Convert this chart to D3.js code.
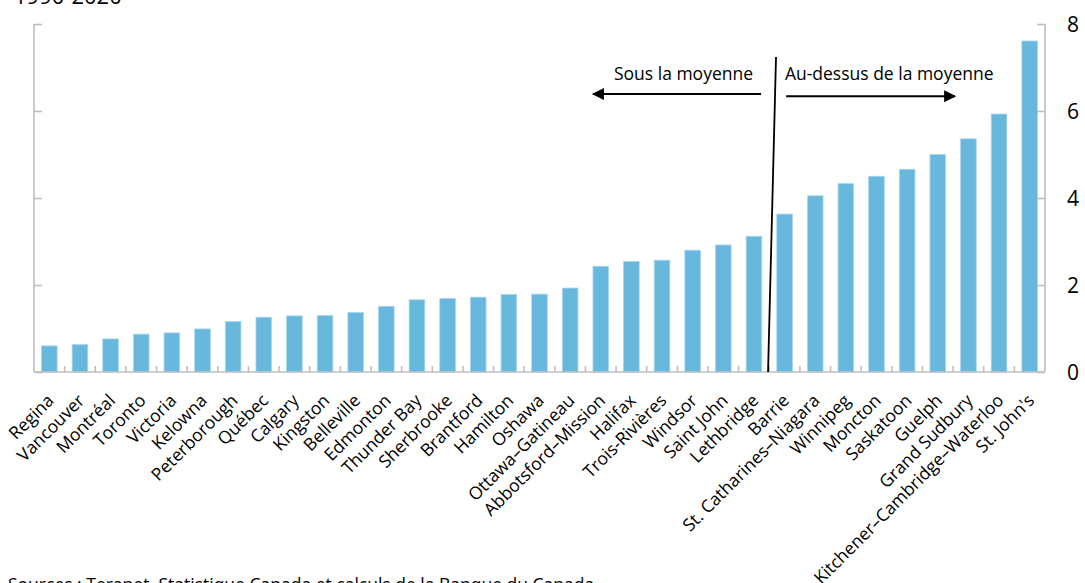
<!DOCTYPE html>
<html><head><meta charset="utf-8">
<script src="https://cdn.jsdelivr.net/npm/d3@7"></script>
<style>
html,body{margin:0;padding:0;background:#fff;}
svg{display:block;font-family:"Open Sans",sans-serif;}
</style></head>
<body>
<svg id="c" width="1085" height="583"></svg>
<script>
const categories = ["Regina","Vancouver","Montréal","Toronto","Victoria","Kelowna","Peterborough","Québec","Calgary","Kingston","Belleville","Edmonton","Thunder Bay","Sherbrooke","Brantford","Hamilton","Oshawa","Ottawa–Gatineau","Abbotsford–Mission","Halifax","Trois-Rivières","Windsor","Saint John","Lethbridge","Barrie","St. Catharines–Niagara","Winnipeg","Moncton","Saskatoon","Guelph","Grand Sudbury","Kitchener–Cambridge–Waterloo","St. John's"];
const values = [0.60,0.63,0.76,0.87,0.90,0.99,1.16,1.26,1.29,1.30,1.37,1.51,1.66,1.69,1.72,1.78,1.79,1.93,2.43,2.54,2.57,2.80,2.92,3.12,3.63,4.05,4.33,4.50,4.66,5.00,5.36,5.93,7.61];
const yTicks = [0,2,4,6,8];
const title = "1990-2020";
const source = "Sources : Teranet, Statistique Canada et calculs de la Banque du Canada";
const belowLabel = "Sous la moyenne";
const aboveLabel = "Au-dessus de la moyenne";
// annotation positions in data units: [category index (fractional), value]
const dividerLine = [[23.46,0],[23.72,7.24]];
const belowArrow = [[23.23,6.39],[17.75,6.39]];
const aboveArrow = [[24.05,6.34],[29.56,6.34]];
const belowText = [22.97,6.71];
const aboveText = [24.01,6.71];

const svg = d3.select("#c");
const L = 34, R = 1045, T = 24, B = 372;
const x = d3.scaleBand().domain(categories).range([L,R]).paddingInner(0.49).paddingOuter(0.245);
const y = d3.scaleLinear().domain([0,8]).range([B,T]);
const step = x.step();
const xi = i => x(categories[0]) + x.bandwidth()/2 + i*step;
const grey = "#bfbfbf";

svg.append("defs").append("marker").attr("id","ah").attr("viewBox","0 0 10 10")
  .attr("refX",9).attr("refY",5).attr("markerWidth",7.5).attr("markerHeight",6)
  .attr("markerUnits","strokeWidth").attr("orient","auto")
  .append("path").attr("d","M0,0L10,5L0,10Z").attr("fill","#000");

// bars
svg.append("g").selectAll("rect").data(values).join("rect")
  .attr("x",(d,i)=>x(categories[i])).attr("width",x.bandwidth())
  .attr("y",d=>y(d)).attr("height",d=>B-y(d))
  .attr("fill","#68b7dc").attr("stroke","#a8d6ee").attr("stroke-width",0.8);

// left axis
const la = svg.append("g").attr("transform",`translate(${L},0)`)
  .call(d3.axisRight(y).tickValues(yTicks).tickSize(8).tickFormat(""));
la.select(".domain").attr("stroke",grey).attr("stroke-width",1.6).attr("d",`M0,${T}V${B}`);
la.selectAll(".tick line").attr("stroke",grey).attr("stroke-width",1.6);

// right axis
const ra = svg.append("g").attr("transform",`translate(${R},0)`)
  .call(d3.axisLeft(y).tickValues(yTicks).tickSize(8).tickFormat(""));
ra.select(".domain").attr("stroke",grey).attr("stroke-width",1.6).attr("d",`M0,${T}V${B}`);
ra.selectAll(".tick line").attr("stroke",grey).attr("stroke-width",1.6);
svg.append("g").selectAll("text").data(yTicks).join("text")
  .attr("x",R+22).attr("y",d=>y(d)).attr("dy","0.36em")
  .attr("font-size",21).attr("fill","#000").text(d=>d);

// bottom axis
const ba = svg.append("g").attr("transform",`translate(0,${B})`)
  .call(d3.axisBottom(x).tickSize(0).tickFormat(""));
ba.select(".domain").attr("stroke",grey).attr("stroke-width",1.6).attr("d",`M${L},0H${R}`);
ba.selectAll(".tick").remove();
svg.append("g").selectAll("line").data(d3.range(1,categories.length)).join("line")
  .attr("x1",i=>L+i*step).attr("x2",i=>L+i*step).attr("y1",B).attr("y2",B-6)
  .attr("stroke",grey).attr("stroke-width",1.6);

// category labels
svg.append("g").selectAll("text").data(categories).join("text")
  .attr("transform",d=>`translate(${x(d)+x.bandwidth()/2-3},${B+21}) rotate(-45)`)
  .attr("text-anchor","end").attr("dy","0.7em").attr("font-size",17.5).attr("fill","#000").text(d=>d);

// annotations
svg.append("line")
  .attr("x1",xi(dividerLine[0][0])).attr("y1",y(dividerLine[0][1]))
  .attr("x2",xi(dividerLine[1][0])).attr("y2",y(dividerLine[1][1]))
  .attr("stroke","#000").attr("stroke-width",1.8);
[belowArrow,aboveArrow].forEach(a=>{
  svg.append("line").attr("x1",xi(a[0][0])).attr("y1",y(a[0][1]))
    .attr("x2",xi(a[1][0])).attr("y2",y(a[1][1]))
    .attr("stroke","#000").attr("stroke-width",2).attr("marker-end","url(#ah)");
});
svg.append("text").attr("x",xi(belowText[0])).attr("y",y(belowText[1]))
  .attr("text-anchor","end").attr("font-size",17.5).text(belowLabel);
svg.append("text").attr("x",xi(aboveText[0])).attr("y",y(aboveText[1]))
  .attr("text-anchor","start").attr("font-size",17.5).text(aboveLabel);

// title & source (cut by frame)
svg.append("text").attr("x",14).attr("y",4).attr("font-size",22).text(title);
svg.append("text").attr("x",8).attr("y",591).attr("font-size",17.5).text(source);
</script>
</body></html>
